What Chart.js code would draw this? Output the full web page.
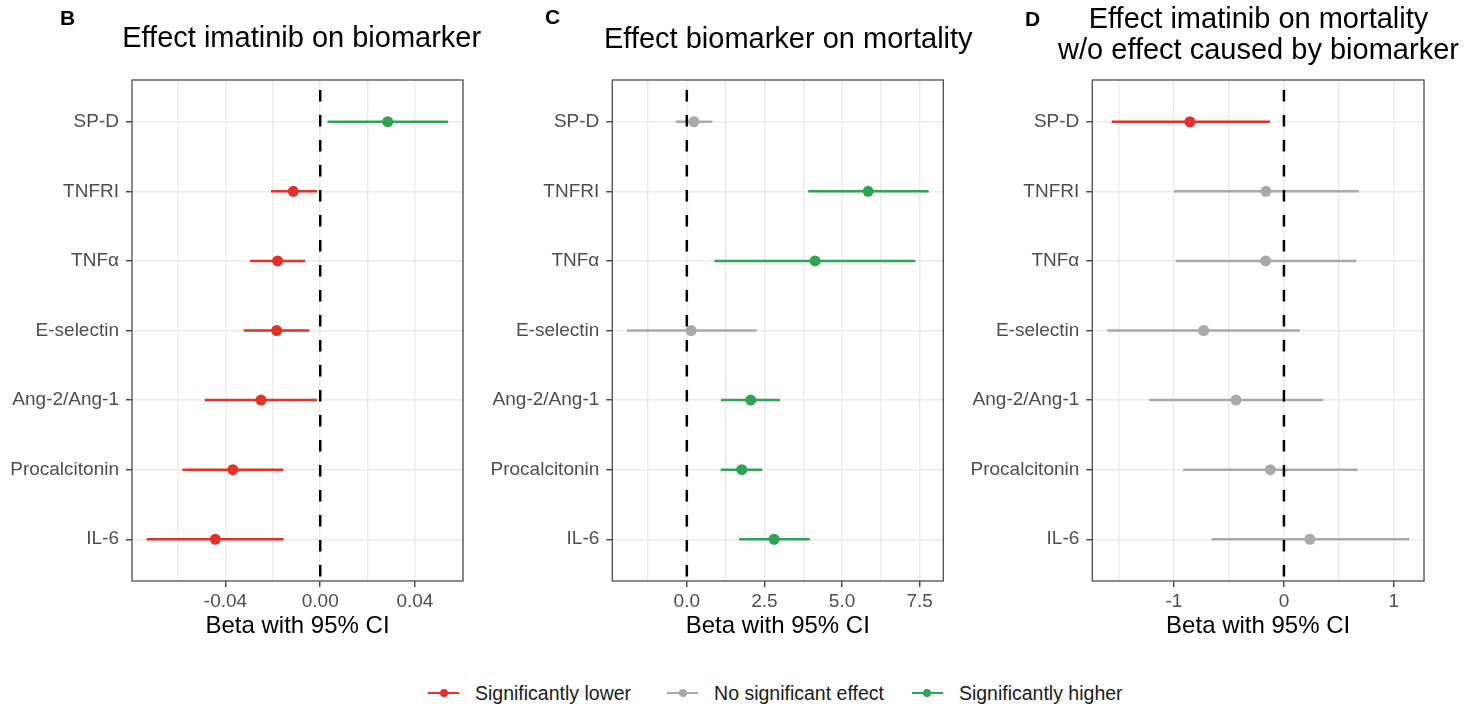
<!DOCTYPE html>
<html><head><meta charset="utf-8">
<script src="https://cdn.jsdelivr.net/npm/chart.js@4.4.1/dist/chart.umd.min.js"></script>
<style>
html,body{margin:0;padding:0;background:#fff;}
body{width:1480px;height:708px;position:relative;overflow:hidden;font-family:"Liberation Sans",Arial,sans-serif;}
canvas{position:absolute;top:0;left:0;}
#legend{position:absolute;left:428px;top:681px;height:24px;display:flex;align-items:center;font-size:19.5px;color:#1a1a1a;white-space:nowrap;}
.item{display:flex;align-items:center;margin-right:36px;}
.item:nth-child(2){margin-right:28px;}
.sym{position:relative;width:31px;height:24px;margin-right:16px;}
.sym .ln{position:absolute;left:0;top:10.8px;width:31px;height:2.4px;}
.sym .dt{position:absolute;left:11.5px;top:8px;width:8px;height:8px;border-radius:50%;}
</style></head>
<body>
<canvas id="cB" width="1480" height="660"></canvas>
<canvas id="cC" width="1480" height="660"></canvas>
<canvas id="cD" width="1480" height="660"></canvas>
<div id="legend"></div>
<script>
// ---------------- DATA ----------------
const categories = ["SP-D","TNFRI","TNFα","E-selectin","Ang-2/Ang-1","Procalcitonin","IL-6"];

// Panel B: effect imatinib on biomarker
const betaB = [0.0285,-0.0114,-0.0180,-0.0184,-0.0250,-0.0369,-0.0443];
const lowB  = [0.0031,-0.0208,-0.0296,-0.0323,-0.0488,-0.0582,-0.0733];
const highB = [0.0540,-0.0014,-0.0063,-0.0046,-0.0014,-0.0156,-0.0155];

// Panel C: effect biomarker on mortality
const betaC = [0.23,5.84,4.13,0.14,2.06,1.77,2.81];
const lowC  = [-0.35,3.91,0.89,-1.93,1.10,1.09,1.68];
const highC = [0.82,7.79,7.36,2.25,3.00,2.43,3.96];

// Panel D: effect imatinib on mortality w/o effect caused by biomarker
const betaD = [-0.855,-0.164,-0.167,-0.730,-0.436,-0.124,0.236];
const lowD  = [-1.567,-1.000,-0.985,-1.606,-1.227,-0.918,-0.657];
const highD = [-0.127,0.682,0.658,0.143,0.358,0.670,1.139];

// Axis ticks
const majorB = [-0.04,0,0.04];   const majorLabelsB = ["-0.04","0.00","0.04"];
const minorB = [-0.06,-0.02,0.02,0.06];
const majorC = [0,2.5,5,7.5];    const majorLabelsC = ["0.0","2.5","5.0","7.5"];
const minorC = [-1.25,1.25,3.75,6.25];
const majorD = [-1,0,1];         const majorLabelsD = ["-1","0","1"];
const minorD = [-1.5,-0.5,0.5];

const titleB = ["Effect imatinib on biomarker"];
const titleC = ["Effect biomarker on mortality"];
const titleD = ["Effect imatinib on mortality","w/o effect caused by biomarker"];
const xTitle = "Beta with 95% CI";
const legendLabels = ["Significantly lower","No significant effect","Significantly higher"];
const legendKeys = ["lower","none","higher"];

// ---------------- STYLE ----------------
const FONT = '"Liberation Sans", Arial, Helvetica, sans-serif';
Chart.defaults.font.family = FONT;
const COLORS = {lower:'#E2312B', none:'#A9A9A9', higher:'#31A354'};

const panelDecor = {
  id:'panelDecor',
  afterDraw(chart, args, o){
    const {ctx, chartArea:a} = chart;
    ctx.save();
    ctx.strokeStyle = '#4D4D4D'; ctx.lineWidth = 1.3;
    ctx.strokeRect(a.left, a.top, a.right-a.left, a.bottom-a.top);
    ctx.fillStyle = '#000';
    ctx.textBaseline = 'alphabetic';
    ctx.font = 'bold 21px ' + FONT;
    ctx.textAlign = 'left';
    ctx.fillText(o.letter, o.letterX, o.letterY);
    ctx.font = '29px ' + FONT;
    ctx.textAlign = 'center';
    o.title.forEach((t,i)=>ctx.fillText(t, o.titleX, o.titleY[i]));
    ctx.restore();
  }
};

function significance(low, high){
  return low.map((l,i)=> l>0 ? 'higher' : (high[i]<0 ? 'lower' : 'none'));
}

function makePanel(id, beta, low, high, majors, majorLabels, minors, xmin, xmax, geo, title){
  const sig = significance(low, high);
  const isMajor = v => majors.some(m=>Math.abs(m-v)<1e-9);
  const gridVals = majors.concat(minors).filter(v=>v>=xmin && v<=xmax).sort((a,b)=>a-b);
  const datasets = [];
  datasets.push({type:'scatter', data: beta.map((b,i)=>({x:b,y:i+1})),
    pointRadius:5.5, pointHoverRadius:5.5, pointBackgroundColor: sig.map(s=>COLORS[s]),
    pointBorderWidth:0, borderWidth:0, order:0});
  datasets.push({type:'line', data:[{x:0,y:0.4},{x:0,y:7.6}], borderColor:'#000',
    borderWidth:2.5, borderDash:[11.5,13.5], borderDashOffset:15, pointRadius:0, order:1});
  categories.forEach((c,i)=>datasets.push({type:'line',
    data:[{x:low[i],y:i+1},{x:high[i],y:i+1}], borderColor:COLORS[sig[i]],
    borderWidth:2.5, pointRadius:0, order:2}));

  return new Chart(document.getElementById(id), {
    type:'scatter',
    data:{datasets},
    options:{
      responsive:false, animation:false, devicePixelRatio:1,
      events:[],
      layout:{autoPadding:false, padding:{top:80, left:geo.left, right:geo.right, bottom:0}},
      plugins:{legend:{display:false}, tooltip:{enabled:false},
        panelDecor:{letter:geo.letter, letterX:geo.letterX, letterY:geo.letterY,
                    title:title, titleX:geo.titleX, titleY:geo.titleY}},
      scales:{
        x:{type:'linear', min:xmin, max:xmax,
          afterBuildTicks: s => { s.ticks = gridVals.map(v=>({value:v})); },
          afterFit: s => { s.height = 79; },
          ticks:{autoSkip:false, maxRotation:0, color:'#4D4D4D', font:{size:19}, padding:3,
            callback: v => { const k = majors.findIndex(m=>Math.abs(m-v)<1e-9); return k>=0 ? majorLabels[k] : ''; }},
          grid:{color:'#EBEBEB', lineWidth:1.5, tickLength:6, tickWidth:1.3,
            tickColor: c => (c.tick && isMajor(c.tick.value)) ? '#333333' : 'rgba(0,0,0,0)'},
          border:{display:false},
          title:{display:true, text:xTitle, color:'#000', font:{size:24}, padding:{top:0,bottom:19}}
        },
        y:{type:'linear', min:0.4, max:7.6, reverse:true,
          afterBuildTicks: s => { s.ticks = categories.map((c,i)=>({value:i+1})); },
          afterFit: s => { s.width = 132; },
          ticks:{autoSkip:false, color:'#4D4D4D', font:{size:19}, padding:7,
            callback: v => categories[Math.round(v)-1]},
          grid:{color:'#EBEBEB', lineWidth:1.5, tickLength:6, tickWidth:1.3, tickColor:'#333333'},
          border:{display:false}
        }
      }
    },
    plugins:[panelDecor]
  });
}

makePanel('cB', betaB, lowB, highB, majorB, majorLabelsB, minorB, -0.0795, 0.0603,
  {left:0, right:1017, letter:'B', letterX:60, letterY:25, titleX:301.7, titleY:[47]}, titleB);
makePanel('cC', betaC, lowC, highC, majorC, majorLabelsC, minorC, -2.40, 8.26,
  {left:480.3, right:536.7, letter:'C', letterX:545, letterY:24, titleX:788.3, titleY:[48]}, titleC);
makePanel('cD', betaD, lowD, highD, majorD, majorLabelsD, minorD, -1.743, 1.274,
  {left:960.3, right:56, letter:'D', letterX:1025, letterY:26, titleX:1258.5, titleY:[28,59]}, titleD);

// legend
const lg = document.getElementById('legend');
legendKeys.forEach((k,i)=>{
  const it = document.createElement('div'); it.className='item';
  it.innerHTML = '<span class="sym"><span class="ln" style="background:'+COLORS[k]+'"></span><span class="dt" style="background:'+COLORS[k]+'"></span></span><span class="tx"></span>';
  it.querySelector('.tx').textContent = legendLabels[i];
  lg.appendChild(it);
});
</script>
</body></html>
